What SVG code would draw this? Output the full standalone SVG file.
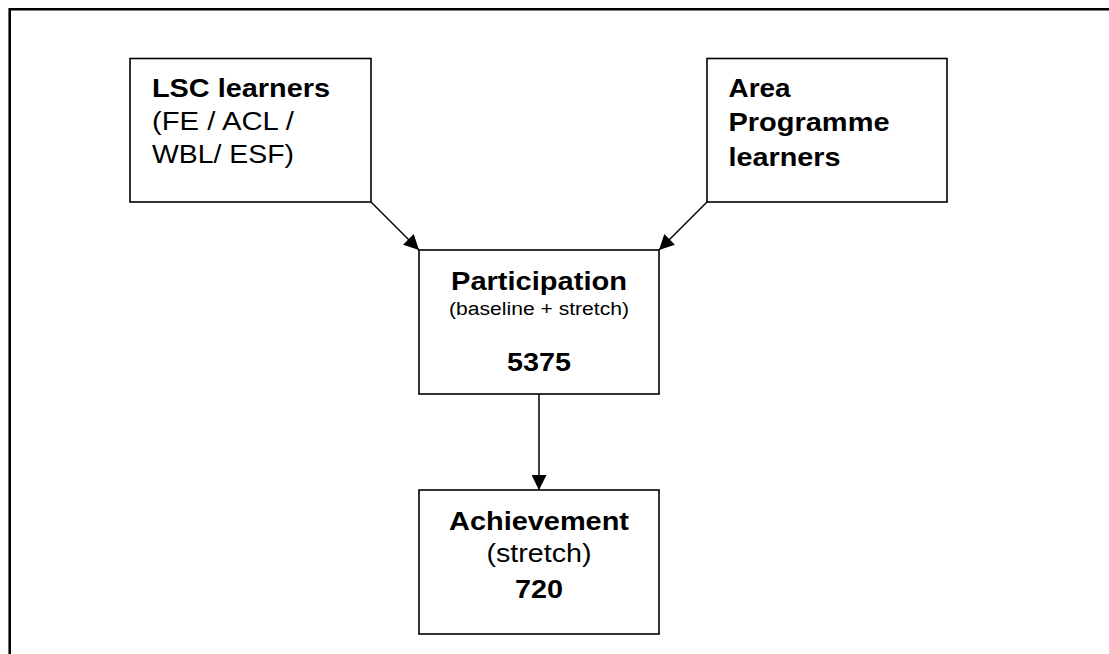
<svg xmlns="http://www.w3.org/2000/svg" width="1109" height="654" viewBox="0 0 1109 654">
  <style>
    .box { fill: #ffffff; stroke: #000000; stroke-width: 1.6; }
    .frame { fill: none; stroke: #000000; stroke-width: 2.6; }
    .conn { fill: none; stroke: #000000; stroke-width: 1.5; }
    text { font-family: "Liberation Sans", Arial, sans-serif; font-size: 26.5px; fill: #000000; }
    .b { font-weight: bold; }
    .sm { font-size: 18px; }
    .c { text-anchor: middle; }
  </style>
  <defs>
    <marker id="arrowBig" viewBox="0 0 15 15" refX="15" refY="7.5" markerWidth="15" markerHeight="15" markerUnits="userSpaceOnUse" orient="auto">
      <path d="M0,0 L15,7.5 L0,15 Z" fill="#000000"/>
    </marker>
  </defs>
  <rect x="0" y="0" width="1109" height="654" fill="#ffffff"/>
  <path class="frame" d="M9.7,654 L9.7,9.2 L1109,9.2"/>

  <g id="connectors">
    <line class="conn" x1="371" y1="202" x2="419" y2="250" marker-end="url(#arrowBig)"/>
    <line class="conn" x1="707" y1="202" x2="659" y2="250" marker-end="url(#arrowBig)"/>
    <line class="conn" x1="539" y1="394" x2="539" y2="490" marker-end="url(#arrowBig)"/>
  </g>

  <g id="node-lsc">
    <rect class="box" x="130" y="58.5" width="241" height="143.5"/>
    <text class="b" x="152" y="97" textLength="178" lengthAdjust="spacingAndGlyphs">LSC learners</text>
    <text x="152" y="130" textLength="142" lengthAdjust="spacingAndGlyphs">(FE / ACL /</text>
    <text x="152" y="162.5" textLength="142" lengthAdjust="spacingAndGlyphs">WBL/ ESF)</text>
  </g>

  <g id="node-area">
    <rect class="box" x="707" y="58.5" width="240" height="143.5"/>
    <text class="b" x="728.5" y="96.5" textLength="62" lengthAdjust="spacingAndGlyphs">Area</text>
    <text class="b" x="728.5" y="131" textLength="161" lengthAdjust="spacingAndGlyphs">Programme</text>
    <text class="b" x="728.5" y="165.5" textLength="112" lengthAdjust="spacingAndGlyphs">learners</text>
  </g>

  <g id="node-participation">
    <rect class="box" x="419" y="250" width="240" height="144"/>
    <text class="b c" x="539" y="289.5" textLength="176" lengthAdjust="spacingAndGlyphs">Participation</text>
    <text class="sm c" x="539" y="314.5" textLength="180" lengthAdjust="spacingAndGlyphs">(baseline + stretch)</text>
    <text class="b c" x="539" y="371" textLength="64" lengthAdjust="spacingAndGlyphs">5375</text>
  </g>

  <g id="node-achievement">
    <rect class="box" x="419" y="490" width="240" height="144"/>
    <text class="b c" x="539" y="529.5" textLength="180" lengthAdjust="spacingAndGlyphs">Achievement</text>
    <text class="c" x="539" y="562" textLength="105" lengthAdjust="spacingAndGlyphs">(stretch)</text>
    <text class="b c" x="539" y="598" textLength="48" lengthAdjust="spacingAndGlyphs">720</text>
  </g>
</svg>
